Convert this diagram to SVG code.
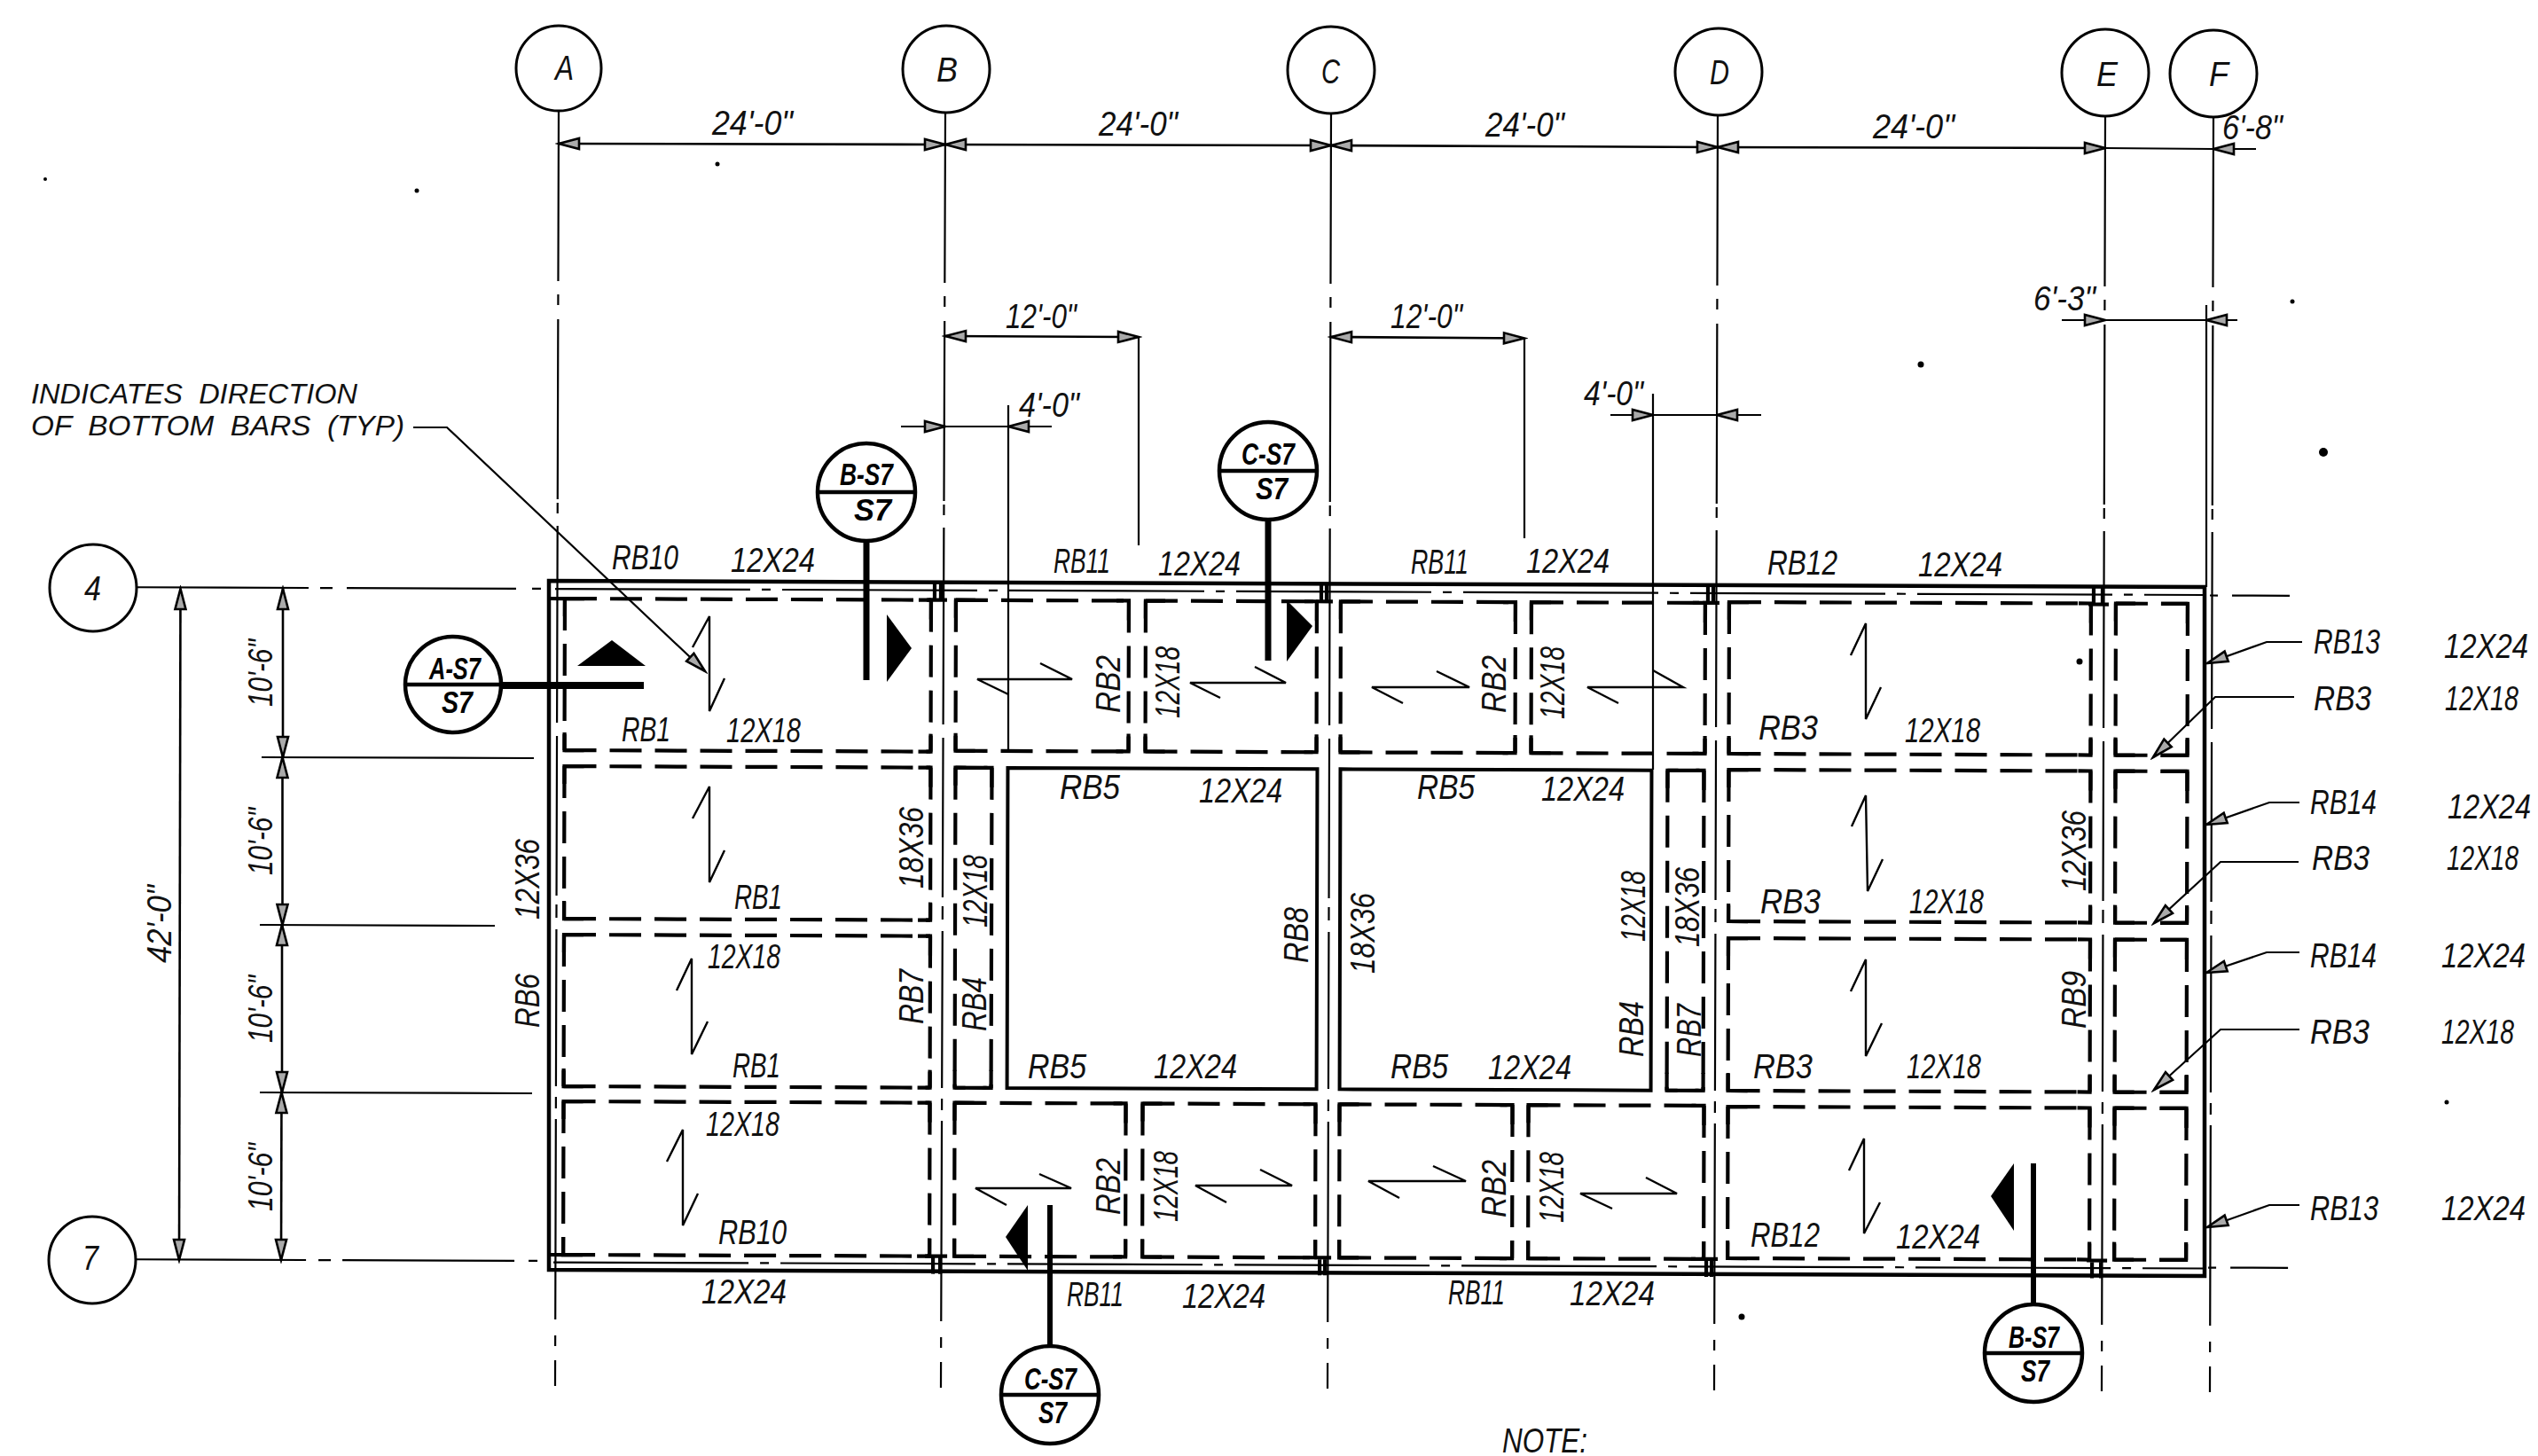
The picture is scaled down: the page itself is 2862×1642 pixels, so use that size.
<svg xmlns="http://www.w3.org/2000/svg" width="2862" height="1642" viewBox="0 0 2862 1642">
<defs>
<style>
.t{font-family:"Liberation Sans",Arial,sans-serif;font-style:italic;font-size:38px;fill:#111}
.n{font-family:"Liberation Sans",Arial,sans-serif;font-style:italic;font-size:31px;fill:#111;white-space:pre}
.s{font-family:"Liberation Sans",Arial,sans-serif;font-style:italic;font-weight:bold;font-size:35px;fill:#000}
.b{fill:#fff;stroke:#000;stroke-width:3}
.sb{fill:#fff;stroke:#000;stroke-width:4.5}
.col{fill:none;stroke:#000;stroke-width:2.2;stroke-dasharray:192 15 12 16 203 4 12 14 222 15 180 10 15 13 177 12 13 12 226 18 12 16 29}
.ln{fill:none;stroke:#000;stroke-width:2.2}
.dim{fill:none;stroke:#000;stroke-width:2.6;marker-start:url(#a);marker-end:url(#a)}
.lead{fill:none;stroke:#000;stroke-width:2.2;marker-end:url(#a)}
.dsh{fill:none;stroke:#000;stroke-width:4.2;stroke-dasharray:36 15}
.cor{fill:none;stroke:#000;stroke-width:4.2}
.sol{fill:none;stroke:#000;stroke-width:4}
.thin{fill:none;stroke:#000;stroke-width:2.2;stroke-dasharray:220 13 10 13}
.stem{fill:none;stroke:#000}
.bar{fill:none;stroke:#000;stroke-width:2.4}
</style>
<marker id="a" markerUnits="userSpaceOnUse" markerWidth="30" markerHeight="18" refX="26" refY="9" orient="auto-start-reverse"><path d="M26 9L3 3V15Z" fill="#aaa" stroke="#000" stroke-width="2.6"/></marker>
</defs>
<rect width="2862" height="1642" fill="#fff"/>

<g id="specks" fill="#000">
<circle cx="2620" cy="510" r="5"/><circle cx="2166" cy="411" r="3.5"/><circle cx="2585" cy="340" r="2.5"/><circle cx="2492" cy="58" r="3"/><circle cx="1964" cy="1485" r="3.5"/><circle cx="2759" cy="1243" r="2.5"/><circle cx="51" cy="202" r="2"/><circle cx="470" cy="215" r="2.5"/><circle cx="809" cy="185" r="2.5"/><circle cx="2345" cy="746" r="3.5"/>
</g>

<g id="connectors">
<g id="column-lines">
<line class="col" x1="630" y1="125" x2="626" y2="1563"/>
<line class="col" x1="1066" y1="127" x2="1061" y2="1565"/>
<line class="col" x1="1501" y1="128" x2="1497" y2="1566"/>
<line class="col" x1="1937" y1="130" x2="1933" y2="1568"/>
<line class="col" x1="2374" y1="131" x2="2370" y2="1569"/>
<line class="col" x1="2496" y1="132" x2="2492" y2="1570"/>
</g>
<g id="frame">
<path d="M619 655L2486 662L2486 1439L619 1432Z" fill="none" stroke="#000" stroke-width="4.5"/>
<path class="ln" d="M2488 344V662"/>
</g>
<g id="beams" transform="matrix(1 .00375 -.0025 1 1.64 -2.32)">
<path class="ln" d="M154 664H348M361 664H375M391 664H582M600 664H610M2492 664.5H2501M2517 664.5H2582M154 1422H347M361 1422H375M388 1422H582M598 1422H608M2492 1422.5H2501M2517 1422.5H2582"/>
<path class="thin" d="M626 664H2486"/>
<path class="thin" d="M626 1423.5H2486"/>
<path class="cor" d="M620 675H637M620 1415H637"/>
<path class="dsh" d="M637 675H1050M637 675V846M1050 675V846M637 846H1050M637 864H1050M637 864V1036M1050 864V1036M637 1036H1050M637 1054H1050M637 1054V1225M1050 1054V1225M637 1225H1050M637 1242H1050M637 1242V1415M1050 1242V1415M637 1415H1050"/>
<path class="cor" d="M637 695V675H659M1036 675H1050V697M637 826V846H659M1036 846H1050V826M637 884V864H659M1036 864H1050V886M637 1016V1036H659M1036 1036H1050V1016M637 1074V1054H659M1036 1054H1050V1076M637 1205V1225H659M1036 1225H1050V1205M637 1262V1242H659M1036 1242H1050V1264M637 1395V1415H659M1036 1415H1050V1395"/>
<path class="dsh" d="M1078 675H1273M1078 675V845M1273 675V845M1078 845H1273M1292 675H1485M1292 675V845M1485 675V845M1292 845H1485M1078 864H1119M1078 864V1225M1119 864V1225M1078 1225H1119M1078 1242H1271M1078 1242V1415M1271 1242V1415M1078 1415H1271M1290 1242H1485M1290 1242V1415M1485 1242V1415M1290 1415H1485"/>
<path class="cor" d="M1078 695V675H1100M1259 675H1273V697M1078 825V845H1100M1259 845H1273V825M1292 695V675H1314M1471 675H1485V697M1292 825V845H1314M1471 845H1485V825M1078 884V864H1090M1110 864H1119V886M1078 1205V1225H1090M1110 1225H1119V1205M1078 1262V1242H1100M1257 1242H1271V1264M1078 1395V1415H1100M1257 1415H1271V1395M1290 1262V1242H1312M1471 1242H1485V1264M1290 1395V1415H1312M1471 1415H1485V1395"/>
<path class="dsh" d="M1512 675H1709M1512 675V845M1709 675V845M1512 845H1709M1727 675H1923M1727 675V845M1923 675V845M1727 845H1923M1881 864H1922M1881 864V1225M1922 864V1225M1881 1225H1922M1512 1242H1707M1512 1242V1415M1707 1242V1415M1512 1415H1707M1725 1242H1923M1725 1242V1415M1923 1242V1415M1725 1415H1923"/>
<path class="cor" d="M1512 695V675H1534M1695 675H1709V697M1512 825V845H1534M1695 845H1709V825M1727 695V675H1749M1909 675H1923V697M1727 825V845H1749M1909 845H1923V825M1881 884V864H1893M1913 864H1922V886M1881 1205V1225H1893M1913 1225H1922V1205M1512 1262V1242H1534M1693 1242H1707V1264M1512 1395V1415H1534M1693 1415H1707V1395M1725 1262V1242H1747M1909 1242H1923V1264M1725 1395V1415H1747M1909 1415H1923V1395"/>
<path class="dsh" d="M1950 674H2358M1950 674V845M2358 674V845M1950 845H2358M1950 863H2358M1950 863V1034M2358 863V1034M1950 1034H2358M1950 1053H2358M1950 1053V1225M2358 1053V1225M1950 1225H2358M1950 1243H2358M1950 1243V1414M2358 1243V1414M1950 1414H2358"/>
<path class="cor" d="M1950 694V674H1972M2344 674H2358V696M1950 825V845H1972M2344 845H2358V825M1950 883V863H1972M2344 863H2358V885M1950 1014V1034H1972M2344 1034H2358V1014M1950 1073V1053H1972M2344 1053H2358V1075M1950 1205V1225H1972M2344 1225H2358V1205M1950 1263V1243H1972M2344 1243H2358V1265M1950 1394V1414H1972M2344 1414H2358V1394"/>
<path class="dsh" d="M2386 674H2467M2386 674V845M2467 674V845M2386 845H2467M2386 863H2467M2386 863V1034M2467 863V1034M2386 1034H2467M2386 1053H2467M2386 1053V1225M2467 1053V1225M2386 1225H2467M2386 1243H2467M2386 1243V1414M2467 1243V1414M2386 1414H2467"/>
<path class="cor" d="M2386 694V674H2408M2437 674H2467V696M2386 825V845H2408M2437 845H2467V825M2386 883V863H2408M2437 863H2467V885M2386 1014V1034H2408M2437 1034H2467V1014M2386 1073V1053H2408M2437 1053H2467V1075M2386 1205V1225H2408M2437 1225H2467V1205M2386 1263V1243H2408M2437 1243H2467V1265M2386 1394V1414H2408M2437 1414H2467V1394"/>
<path class="sol" d="M1137 864H1486V1225H1137ZM1512 864H1863V1225H1512Z"/>
<path class="cor" stroke-width="3" d="M1054 655V677M1061 655V677M1047 675H1068M1490 655V677M1496 655V677M1484 675H1503M1926 655V677M1932 655V677M1920 675H1939M2361 655V677M2371 655V677M2355 675H2378M1054 1415V1435M1062 1415V1435M1047 1415H1070M1490 1415V1435M1496 1415V1435M1484 1415H1503M1926 1415V1435M1932 1415V1435M1920 1415H1939M2361 1415V1435M2371 1415V1435M2355 1415H2378"/>
</g>
<g id="dimension-lines">
<path class="dim" d="M630 162L1066 163"/>
<path class="dim" d="M1066 163L1501 164"/>
<path class="dim" d="M1501 164L1937 166"/>
<path class="dim" d="M1937 166L2374 167"/>
<path class="ln" stroke-width="2.6" d="M2374 167L2496 168"/>
<path class="lead" stroke-width="2.6" d="M2544 168L2496 168"/>
<path class="dim" d="M1066 379L1284 380"/>
<path class="ln" d="M1284 380V615"/>
<path class="dim" d="M1501 380L1719 381.5"/>
<path class="ln" d="M1719 381V607"/>
<path class="lead" stroke-width="2.6" d="M1016 481H1066"/>
<path class="lead" stroke-width="2.6" d="M1186 481H1137"/>
<path class="ln" stroke-width="2.6" d="M1066 481H1137"/>
<path class="ln" d="M1137 457V848"/>
<path class="lead" stroke-width="2.6" d="M1816 468H1864"/>
<path class="lead" stroke-width="2.6" d="M1986 468H1936"/>
<path class="ln" stroke-width="2.6" d="M1864 468H1936"/>
<path class="ln" d="M1864 444V868"/>
<path class="lead" stroke-width="2.6" d="M2325 361H2374"/>
<path class="lead" stroke-width="2.6" d="M2523 361H2488"/>
<path class="ln" stroke-width="2.6" d="M2374 361H2488"/>
<path class="dim" d="M203.5 664L202 1421"/>
<path class="dim" d="M319 664V854"/>
<path class="dim" d="M318.5 854V1043"/>
<path class="dim" d="M318 1043V1232"/>
<path class="dim" d="M317.5 1232L317 1421"/>
<path class="ln" d="M295 854L602 855M293 1043L558 1044M293 1232L600 1233"/>
</g>
<g id="leaders">
<polyline class="lead" points="466,482 504,482 795,757"/>
<polyline class="lead" points="2596,724 2556,724 2489,748"/>
<polyline class="lead" points="2587,786 2498,786 2428,854"/>
<polyline class="lead" points="2593,905 2559,905 2488,930"/>
<polyline class="lead" points="2592,972 2504,972 2429,1041"/>
<polyline class="lead" points="2593,1074 2556,1074 2488,1097"/>
<polyline class="lead" points="2593,1161 2504,1161 2429,1229"/>
<polyline class="lead" points="2593,1359 2559,1359 2489,1384"/>
</g>
<g id="bar-directions">
<path class="bar" d="M781 730L800 695V802L817 765"/>
<path class="bar" d="M781 923L800 887V995L817 959"/>
<path class="bar" d="M763 1117L780 1081V1189L798 1152"/>
<path class="bar" d="M752 1310L770 1274V1382L787 1346"/>
<path class="bar" d="M1137 783L1102 766H1209L1173 748"/>
<path class="bar" d="M1376 787L1342 770H1450L1415 752"/>
<path class="bar" d="M1582 793L1547 775H1657L1620 757"/>
<path class="bar" d="M1825 793L1790 775H1898L1864 756"/>
<path class="bar" d="M1135 1359L1100 1340H1208L1172 1324"/>
<path class="bar" d="M1383 1356L1348 1337H1457L1421 1319"/>
<path class="bar" d="M1578 1351L1543 1332H1653L1616 1315"/>
<path class="bar" d="M1818 1363L1782 1346H1891L1856 1328"/>
<path class="bar" d="M2087 739L2104 703V811L2121 775"/>
<path class="bar" d="M2088 932L2104 897L2106 1005L2123 969"/>
<path class="bar" d="M2087 1118L2104 1082V1191L2122 1154"/>
<path class="bar" d="M2085 1320L2102 1284V1391L2120 1356"/>
</g>
</g>

<g id="col-A"><circle class="b" cx="630" cy="77" r="48"/><text class="t" x="626" y="90" textLength="21" lengthAdjust="spacingAndGlyphs">A</text></g>
<g id="col-B"><circle class="b" cx="1067" cy="78" r="49"/><text class="t" x="1056" y="92" textLength="24" lengthAdjust="spacingAndGlyphs">B</text></g>
<g id="col-C"><circle class="b" cx="1501" cy="79" r="49"/><text class="t" x="1490" y="94" textLength="21" lengthAdjust="spacingAndGlyphs">C</text></g>
<g id="col-D"><circle class="b" cx="1938" cy="81" r="49"/><text class="t" x="1928" y="95" textLength="22" lengthAdjust="spacingAndGlyphs">D</text></g>
<g id="col-E"><circle class="b" cx="2374" cy="82" r="49"/><text class="t" x="2364" y="97" textLength="24" lengthAdjust="spacingAndGlyphs">E</text></g>
<g id="col-F"><circle class="b" cx="2496" cy="83" r="49"/><text class="t" x="2491" y="97" textLength="22" lengthAdjust="spacingAndGlyphs">F</text></g>
<g id="row-4"><circle class="b" cx="105" cy="663" r="49"/><text class="t" x="95" y="677" textLength="19" lengthAdjust="spacingAndGlyphs">4</text></g>
<g id="row-7"><circle class="b" cx="104" cy="1421" r="49"/><text class="t" x="93" y="1432" textLength="18" lengthAdjust="spacingAndGlyphs">7</text></g>

<g id="section-B-top">
<path class="stem" stroke-width="7" d="M977 609V767"/><polygon points="1000,693 1028,731 1000,769"/>
<circle class="sb" cx="977" cy="555" r="55"/><path class="stem" stroke-width="4.5" d="M922 555H1032"/>
<text class="s" x="947" y="547" textLength="60" lengthAdjust="spacingAndGlyphs">B-S7</text><text class="s" x="963" y="587" textLength="42" lengthAdjust="spacingAndGlyphs">S7</text>
</g>
<g id="section-C-top">
<path class="stem" stroke-width="7" d="M1430 585V745"/><polygon points="1451,677 1480,706 1451,746"/>
<circle class="sb" cx="1430" cy="531" r="55"/><path class="stem" stroke-width="4.5" d="M1375 531H1485"/>
<text class="s" x="1400" y="524" textLength="60" lengthAdjust="spacingAndGlyphs">C-S7</text><text class="s" x="1416" y="563" textLength="36" lengthAdjust="spacingAndGlyphs">S7</text>
</g>
<g id="section-A">
<path class="stem" stroke-width="8" d="M565 773H726"/><polygon points="651,751 690,722 728,751"/>
<circle class="sb" cx="511" cy="772" r="54"/><path class="stem" stroke-width="4.5" d="M457 772H565"/>
<text class="s" x="484" y="766" textLength="58" lengthAdjust="spacingAndGlyphs">A-S7</text><text class="s" x="498" y="804" textLength="35" lengthAdjust="spacingAndGlyphs">S7</text>
</g>
<g id="section-C-bottom">
<path class="stem" stroke-width="6" d="M1184 1359V1518"/><polygon points="1159,1359 1134,1395 1159,1433"/>
<circle class="sb" cx="1184" cy="1573" r="55"/><path class="stem" stroke-width="4.5" d="M1129 1573H1239"/>
<text class="s" x="1155" y="1567" textLength="59" lengthAdjust="spacingAndGlyphs">C-S7</text><text class="s" x="1171" y="1605" textLength="32" lengthAdjust="spacingAndGlyphs">S7</text>
</g>
<g id="section-B-bottom">
<path class="stem" stroke-width="6" d="M2293 1312V1472"/><polygon points="2271,1312 2245,1349 2271,1388"/>
<circle class="sb" cx="2293" cy="1526" r="55"/><path class="stem" stroke-width="4.5" d="M2238 1526H2348"/>
<text class="s" x="2265" y="1520" textLength="57" lengthAdjust="spacingAndGlyphs">B-S7</text><text class="s" x="2279" y="1558" textLength="32" lengthAdjust="spacingAndGlyphs">S7</text>
</g>

<g id="dimension-text">
<text class="t" x="803" y="152" textLength="91" lengthAdjust="spacingAndGlyphs">24'-0"</text>
<text class="t" x="1239" y="153" textLength="89" lengthAdjust="spacingAndGlyphs">24'-0"</text>
<text class="t" x="1675" y="154" textLength="89" lengthAdjust="spacingAndGlyphs">24'-0"</text>
<text class="t" x="2112" y="156" textLength="92" lengthAdjust="spacingAndGlyphs">24'-0"</text>
<text class="t" x="2506" y="157" textLength="68" lengthAdjust="spacingAndGlyphs">6'-8"</text>
<text class="t" x="2293" y="350" textLength="70" lengthAdjust="spacingAndGlyphs">6'-3"</text>
<text class="t" x="1134" y="370" textLength="80" lengthAdjust="spacingAndGlyphs">12'-0"</text>
<text class="t" x="1568" y="370" textLength="81" lengthAdjust="spacingAndGlyphs">12'-0"</text>
<text class="t" x="1149" y="470" textLength="68" lengthAdjust="spacingAndGlyphs">4'-0"</text>
<text class="t" x="1786" y="457" textLength="67" lengthAdjust="spacingAndGlyphs">4'-0"</text>
<text class="t" transform="rotate(-90 307 797)" x="307" y="797" textLength="76" lengthAdjust="spacingAndGlyphs">10'-6"</text>
<text class="t" transform="rotate(-90 307 987)" x="307" y="987" textLength="76" lengthAdjust="spacingAndGlyphs">10'-6"</text>
<text class="t" transform="rotate(-90 307 1176)" x="307" y="1176" textLength="76" lengthAdjust="spacingAndGlyphs">10'-6"</text>
<text class="t" transform="rotate(-90 307 1366)" x="307" y="1366" textLength="77" lengthAdjust="spacingAndGlyphs">10'-6"</text>
<text class="t" transform="rotate(-90 193 1086)" x="193" y="1086" textLength="88" lengthAdjust="spacingAndGlyphs">42'-0"</text>
</g>

<g id="note-text">
<text class="n" x="35" y="455" textLength="368" lengthAdjust="spacingAndGlyphs">INDICATES  DIRECTION</text>
<text class="n" x="35" y="491" textLength="421" lengthAdjust="spacingAndGlyphs">OF  BOTTOM  BARS  (TYP)</text>
<text class="t" x="1694" y="1638" textLength="96" lengthAdjust="spacingAndGlyphs">NOTE:</text>
</g>

<g id="beam-labels">
<text class="t" x="690" y="642" textLength="75" lengthAdjust="spacingAndGlyphs">RB10</text>
<text class="t" x="824" y="645" textLength="95" lengthAdjust="spacingAndGlyphs">12X24</text>
<text class="t" x="701" y="836" textLength="55" lengthAdjust="spacingAndGlyphs">RB1</text>
<text class="t" x="819" y="837" textLength="84" lengthAdjust="spacingAndGlyphs">12X18</text>
<text class="t" x="828" y="1025" textLength="54" lengthAdjust="spacingAndGlyphs">RB1</text>
<text class="t" x="798" y="1092" textLength="82" lengthAdjust="spacingAndGlyphs">12X18</text>
<text class="t" x="826" y="1215" textLength="54" lengthAdjust="spacingAndGlyphs">RB1</text>
<text class="t" x="796" y="1281" textLength="83" lengthAdjust="spacingAndGlyphs">12X18</text>
<text class="t" x="810" y="1403" textLength="77" lengthAdjust="spacingAndGlyphs">RB10</text>
<text class="t" x="791" y="1470" textLength="96" lengthAdjust="spacingAndGlyphs">12X24</text>
<text class="t" x="1188" y="646" textLength="64" lengthAdjust="spacingAndGlyphs">RB11</text>
<text class="t" x="1306" y="649" textLength="93" lengthAdjust="spacingAndGlyphs">12X24</text>
<text class="t" x="1591" y="647" textLength="65" lengthAdjust="spacingAndGlyphs">RB11</text>
<text class="t" x="1721" y="646" textLength="94" lengthAdjust="spacingAndGlyphs">12X24</text>
<text class="t" x="1195" y="901" textLength="68" lengthAdjust="spacingAndGlyphs">RB5</text>
<text class="t" x="1352" y="905" textLength="94" lengthAdjust="spacingAndGlyphs">12X24</text>
<text class="t" x="1598" y="901" textLength="65" lengthAdjust="spacingAndGlyphs">RB5</text>
<text class="t" x="1738" y="903" textLength="94" lengthAdjust="spacingAndGlyphs">12X24</text>
<text class="t" x="1159" y="1216" textLength="66" lengthAdjust="spacingAndGlyphs">RB5</text>
<text class="t" x="1301" y="1216" textLength="94" lengthAdjust="spacingAndGlyphs">12X24</text>
<text class="t" x="1568" y="1216" textLength="65" lengthAdjust="spacingAndGlyphs">RB5</text>
<text class="t" x="1678" y="1217" textLength="94" lengthAdjust="spacingAndGlyphs">12X24</text>
<text class="t" x="1203" y="1473" textLength="64" lengthAdjust="spacingAndGlyphs">RB11</text>
<text class="t" x="1333" y="1475" textLength="94" lengthAdjust="spacingAndGlyphs">12X24</text>
<text class="t" x="1633" y="1471" textLength="64" lengthAdjust="spacingAndGlyphs">RB11</text>
<text class="t" x="1770" y="1472" textLength="96" lengthAdjust="spacingAndGlyphs">12X24</text>
<text class="t" x="1993" y="648" textLength="79" lengthAdjust="spacingAndGlyphs">RB12</text>
<text class="t" x="2163" y="650" textLength="95" lengthAdjust="spacingAndGlyphs">12X24</text>
<text class="t" x="1983" y="834" textLength="67" lengthAdjust="spacingAndGlyphs">RB3</text>
<text class="t" x="2148" y="837" textLength="85" lengthAdjust="spacingAndGlyphs">12X18</text>
<text class="t" x="1985" y="1030" textLength="68" lengthAdjust="spacingAndGlyphs">RB3</text>
<text class="t" x="2153" y="1030" textLength="84" lengthAdjust="spacingAndGlyphs">12X18</text>
<text class="t" x="1977" y="1216" textLength="67" lengthAdjust="spacingAndGlyphs">RB3</text>
<text class="t" x="2150" y="1216" textLength="84" lengthAdjust="spacingAndGlyphs">12X18</text>
<text class="t" x="1974" y="1406" textLength="78" lengthAdjust="spacingAndGlyphs">RB12</text>
<text class="t" x="2138" y="1408" textLength="95" lengthAdjust="spacingAndGlyphs">12X24</text>
<text class="t" x="2609" y="737" textLength="75" lengthAdjust="spacingAndGlyphs">RB13</text>
<text class="t" x="2756" y="742" textLength="95" lengthAdjust="spacingAndGlyphs">12X24</text>
<text class="t" x="2609" y="801" textLength="65" lengthAdjust="spacingAndGlyphs">RB3</text>
<text class="t" x="2757" y="801" textLength="83" lengthAdjust="spacingAndGlyphs">12X18</text>
<text class="t" x="2605" y="918" textLength="75" lengthAdjust="spacingAndGlyphs">RB14</text>
<text class="t" x="2760" y="923" textLength="94" lengthAdjust="spacingAndGlyphs">12X24</text>
<text class="t" x="2607" y="981" textLength="65" lengthAdjust="spacingAndGlyphs">RB3</text>
<text class="t" x="2759" y="981" textLength="81" lengthAdjust="spacingAndGlyphs">12X18</text>
<text class="t" x="2605" y="1091" textLength="75" lengthAdjust="spacingAndGlyphs">RB14</text>
<text class="t" x="2753" y="1091" textLength="95" lengthAdjust="spacingAndGlyphs">12X24</text>
<text class="t" x="2605" y="1177" textLength="67" lengthAdjust="spacingAndGlyphs">RB3</text>
<text class="t" x="2753" y="1177" textLength="82" lengthAdjust="spacingAndGlyphs">12X18</text>
<text class="t" x="2605" y="1376" textLength="77" lengthAdjust="spacingAndGlyphs">RB13</text>
<text class="t" x="2753" y="1376" textLength="95" lengthAdjust="spacingAndGlyphs">12X24</text>
<text class="t" transform="rotate(-90 608 1037)" x="608" y="1037" textLength="91" lengthAdjust="spacingAndGlyphs">12X36</text>
<text class="t" transform="rotate(-90 608 1159)" x="608" y="1159" textLength="61" lengthAdjust="spacingAndGlyphs">RB6</text>
<text class="t" transform="rotate(-90 1041 1002)" x="1041" y="1002" textLength="92" lengthAdjust="spacingAndGlyphs">18X36</text>
<text class="t" transform="rotate(-90 1041 1155)" x="1041" y="1155" textLength="62" lengthAdjust="spacingAndGlyphs">RB7</text>
<text class="t" transform="rotate(-90 1113 1046)" x="1113" y="1046" textLength="82" lengthAdjust="spacingAndGlyphs">12X18</text>
<text class="t" transform="rotate(-90 1112 1163)" x="1112" y="1163" textLength="61" lengthAdjust="spacingAndGlyphs">RB4</text>
<text class="t" transform="rotate(-90 1475 1086)" x="1475" y="1086" textLength="63" lengthAdjust="spacingAndGlyphs">RB8</text>
<text class="t" transform="rotate(-90 1550 1098)" x="1550" y="1098" textLength="91" lengthAdjust="spacingAndGlyphs">18X36</text>
<text class="t" transform="rotate(-90 1855 1062)" x="1855" y="1062" textLength="80" lengthAdjust="spacingAndGlyphs">12X18</text>
<text class="t" transform="rotate(-90 1853 1192)" x="1853" y="1192" textLength="63" lengthAdjust="spacingAndGlyphs">RB4</text>
<text class="t" transform="rotate(-90 1916 1068)" x="1916" y="1068" textLength="90" lengthAdjust="spacingAndGlyphs">18X36</text>
<text class="t" transform="rotate(-90 1918 1192)" x="1918" y="1192" textLength="60" lengthAdjust="spacingAndGlyphs">RB7</text>
<text class="t" transform="rotate(-90 1263 804)" x="1263" y="804" textLength="65" lengthAdjust="spacingAndGlyphs">RB2</text>
<text class="t" transform="rotate(-90 1330 810)" x="1330" y="810" textLength="81" lengthAdjust="spacingAndGlyphs">12X18</text>
<text class="t" transform="rotate(-90 1698 804)" x="1698" y="804" textLength="65" lengthAdjust="spacingAndGlyphs">RB2</text>
<text class="t" transform="rotate(-90 1764 811)" x="1764" y="811" textLength="82" lengthAdjust="spacingAndGlyphs">12X18</text>
<text class="t" transform="rotate(-90 1263 1370)" x="1263" y="1370" textLength="64" lengthAdjust="spacingAndGlyphs">RB2</text>
<text class="t" transform="rotate(-90 1328 1378)" x="1328" y="1378" textLength="80" lengthAdjust="spacingAndGlyphs">12X18</text>
<text class="t" transform="rotate(-90 1698 1373)" x="1698" y="1373" textLength="65" lengthAdjust="spacingAndGlyphs">RB2</text>
<text class="t" transform="rotate(-90 1763 1379)" x="1763" y="1379" textLength="80" lengthAdjust="spacingAndGlyphs">12X18</text>
<text class="t" transform="rotate(-90 2352 1005)" x="2352" y="1005" textLength="91" lengthAdjust="spacingAndGlyphs">12X36</text>
<text class="t" transform="rotate(-90 2352 1160)" x="2352" y="1160" textLength="65" lengthAdjust="spacingAndGlyphs">RB9</text>
</g>
</svg>
